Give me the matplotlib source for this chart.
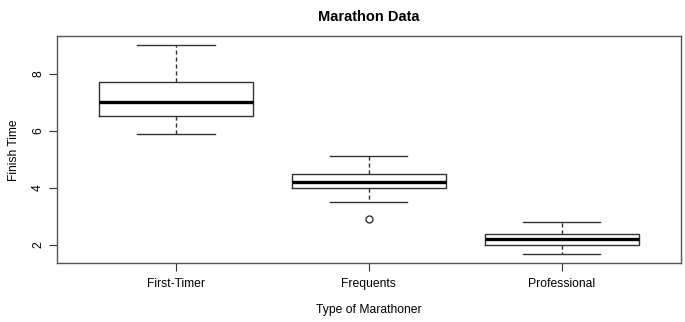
import matplotlib
matplotlib.use('Agg')
import matplotlib.pyplot as plt

plt.rcParams['font.family'] = ['Liberation Sans', 'DejaVu Sans']

groups = ['First-Timer', 'Frequents', 'Professional']
whislo = [5.9, 3.5, 1.7]
q1 = [6.5, 4.0, 2.0]
med = [7.0, 4.2, 2.2]
q3 = [7.7, 4.5, 2.4]
whishi = [9.0, 5.1, 2.8]
fliers = [[], [2.9], []]

stats = []
for i in range(3):
    stats.append({'label': groups[i], 'whislo': whislo[i], 'q1': q1[i], 'med': med[i],
                  'q3': q3[i], 'whishi': whishi[i], 'fliers': fliers[i]})

fig = plt.figure(figsize=(6.85, 3.22), dpi=100)
ax = fig.add_axes([0.0825, 0.183, 0.912, 0.704])
ax.bxp(stats, positions=[1, 2, 3], widths=0.8,
       boxprops=dict(color='#333333', linewidth=1),
       medianprops=dict(color='black', linewidth=2.4),
       whiskerprops=dict(color='#333333', linewidth=1, linestyle=(0, (3, 2))),
       capprops=dict(color='#333333', linewidth=1),
       capwidths=0.4,
       flierprops=dict(marker='o', markerfacecolor='white', markeredgecolor='#333333',
                       markersize=5, markeredgewidth=1))

ax.set_xlim(0.38, 3.62)
ax.set_ylim(1.37, 9.30)
ax.set_yticks([2, 4, 6, 8])
ax.set_yticklabels(['2', '4', '6', '8'], rotation=90, va='center')
ax.tick_params(axis='both', labelsize=8.7, length=6, width=0.8, color='#333333')
ax.tick_params(axis='y', pad=3)
ax.tick_params(axis='x', pad=5)
for s in ax.spines.values():
    s.set_color('#555555')
    s.set_linewidth(1)
ax.set_title('Marathon Data', fontsize=10.5, fontweight='bold', pad=11)
ax.set_xlabel('Type of Marathoner', fontsize=8.7, labelpad=10)
ax.set_ylabel('Finish Time', fontsize=8.7, labelpad=9)

fig.savefig('out.png', dpi=100)
